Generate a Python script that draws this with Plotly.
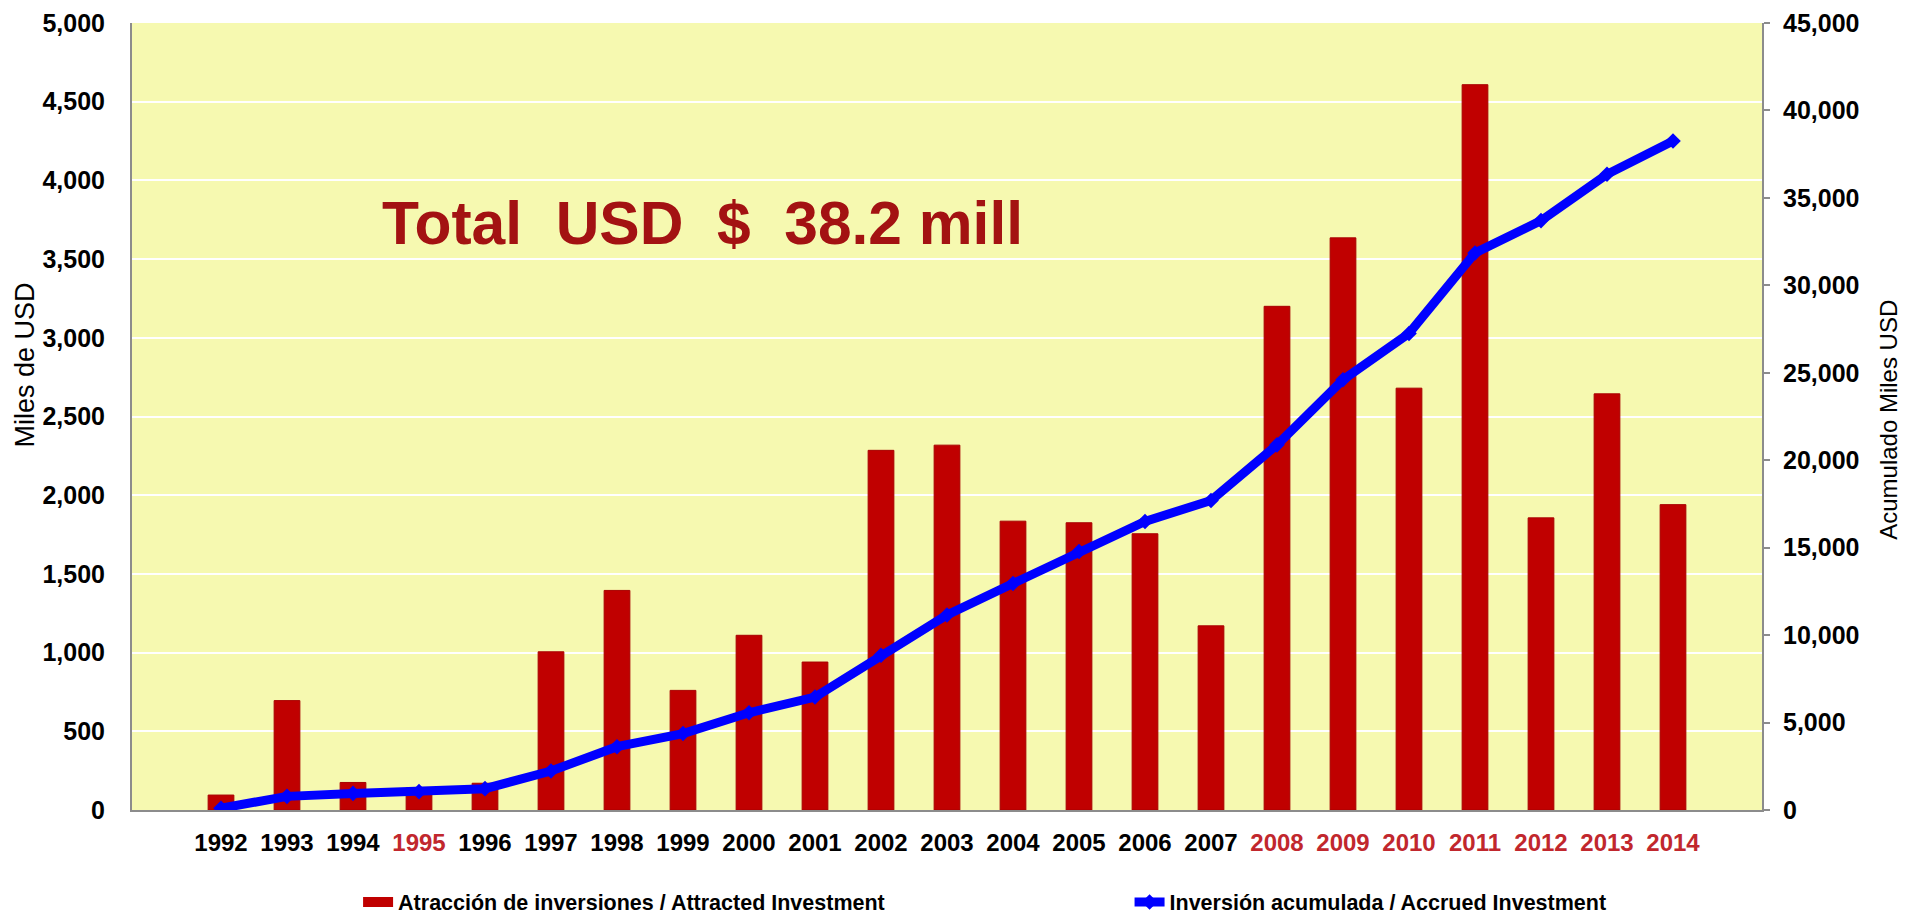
import plotly.graph_objects as go

years = ["1992", "1993", "1994", "1995", "1996", "1997", "1998", "1999", "2000", "2001",
         "2002", "2003", "2004", "2005", "2006", "2007", "2008", "2009", "2010", "2011",
         "2012", "2013", "2014"]
attracted = [95, 695, 175, 140, 170, 1005, 1395, 760, 1110, 940,
             2285, 2318, 1835, 1825, 1755, 1170, 3200, 3635, 2680, 4608,
             1856, 2644, 1940]
accrued = [100, 780, 950, 1050, 1220, 2230, 3620, 4370, 5560, 6460,
           8850, 11150, 12950, 14780, 16500, 17700, 20880, 24600, 27250, 31850,
           33700, 36350, 38250]
red_years = ["1995", "2008", "2009", "2010", "2011", "2012", "2013", "2014"]
left_ticks = [0, 500, 1000, 1500, 2000, 2500, 3000, 3500, 4000, 4500, 5000]
right_ticks = [0, 5000, 10000, 15000, 20000, 25000, 30000, 35000, 40000, 45000]

ARIAL = "Liberation Sans, Arial, sans-serif"
BAR_NAME = "Atracción de inversiones / Attracted Investment"
LINE_NAME = "Inversión acumulada / Accrued Investment"

ticktext = [
    f"<span style='color:#C1272D'>{y}</span>" if y in red_years else y
    for y in years
]

fig = go.Figure()
fig.add_trace(go.Bar(
    x=years, y=attracted, name=BAR_NAME, legendgroup="bars", showlegend=False,
    marker=dict(color="#C00000", line=dict(color="#A80000", width=1)),
))
# legend-only entry so the legend key is a wide red block, as in the original
fig.add_trace(go.Scatter(
    x=[None], y=[None], mode="lines", name=BAR_NAME, legendgroup="bars",
    line=dict(color="#C00000", width=12), legend="legend",
))
fig.add_trace(go.Scatter(
    x=years, y=accrued, yaxis="y2", mode="lines+markers",
    name=LINE_NAME,
    line=dict(color="#0000FF", width=9),
    marker=dict(symbol="diamond", size=12, color="#0000FF"),
    legend="legend2",
))

fig.update_layout(
    width=1899, height=908,
    margin=dict(l=124, r=145, t=15, b=106, autoexpand=False),
    paper_bgcolor="white",
    plot_bgcolor="#F6F9B0",
    bargap=0.61,
    showlegend=True,
    font=dict(family=ARIAL, color="black"),
    xaxis=dict(
        tickmode="array", tickvals=years, ticktext=ticktext, tickangle=0,
        tickfont=dict(family=ARIAL, size=24, color="black", weight="bold"),
        showline=True, linecolor="#8C8C8C", linewidth=2,
        ticks="", showgrid=False, ticklabelstandoff=10,
    ),
    yaxis=dict(
        range=[0, 5000], tickvals=left_ticks, tickformat=",d",
        tickfont=dict(family=ARIAL, size=25, color="black", weight="bold"),
        showline=True, linecolor="#8C8C8C", linewidth=2,
        showgrid=True, gridcolor="white", gridwidth=2,
        ticks="", ticklabelstandoff=20, zeroline=False,
    ),
    yaxis2=dict(
        range=[0, 45000], tickvals=right_ticks, tickformat=",d",
        overlaying="y", side="right",
        tickfont=dict(family=ARIAL, size=25, color="black", weight="bold"),
        showline=True, linecolor="#8C8C8C", linewidth=2,
        ticks="outside", ticklen=6, tickcolor="#8C8C8C", tickwidth=2,
        showgrid=False, zeroline=False, ticklabelstandoff=8,
    ),
    legend=dict(
        x=0.1387, y=-0.117, xanchor="left", yanchor="middle",
        orientation="h", bgcolor="rgba(0,0,0,0)",
        font=dict(family=ARIAL, size=21.5, color="black", weight="bold"),
    ),
    legend2=dict(
        x=0.612, y=-0.117, xanchor="left", yanchor="middle",
        orientation="h", bgcolor="rgba(0,0,0,0)",
        font=dict(family=ARIAL, size=21.5, color="black", weight="bold"),
    ),
    annotations=[
        dict(text="Total\u00a0\u00a0USD\u00a0\u00a0$\u00a0\u00a038.2 mill",
             xref="paper", yref="paper", x=0.35, y=0.746,
             xanchor="center", yanchor="middle", showarrow=False,
             font=dict(family=ARIAL, size=60.5, color="#A31212", weight="bold")),
        dict(text="Miles de USD", xref="paper", yref="paper", x=-0.0655, y=0.565,
             xanchor="center", yanchor="middle", textangle=-90, showarrow=False,
             font=dict(family=ARIAL, size=27, color="black")),
        dict(text="Acumulado Miles USD", xref="paper", yref="paper", x=1.078, y=0.496,
             xanchor="center", yanchor="middle", textangle=-90, showarrow=False,
             font=dict(family=ARIAL, size=24, color="black")),
    ],
)

fig.write_html("out.html")
